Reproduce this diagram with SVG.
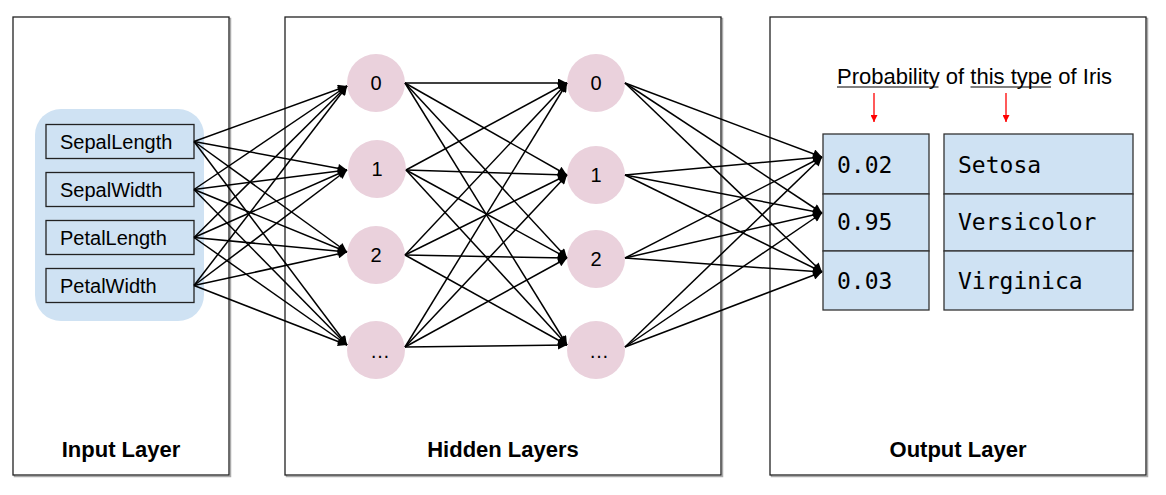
<svg xmlns="http://www.w3.org/2000/svg" width="1166" height="495" viewBox="0 0 1166 495">
<style>
.panel{fill:#fff;stroke:#222;stroke-width:1.3}
.shadow{fill:none;stroke:#aaa;stroke-width:1.5}
.inbox{fill:#cfe2f3;stroke:#222;stroke-width:1.3}
.node{fill:#ead1dc}
.cell{fill:#cfe2f3;stroke:#333;stroke-width:1.3}
.lbl{font-family:"Liberation Sans",Arial,sans-serif;font-size:20px;fill:#000}
.nl{font-family:"Liberation Sans",Arial,sans-serif;font-size:20px;fill:#000;text-anchor:middle}
.title{font-family:"Liberation Sans",Arial,sans-serif;font-size:22px;font-weight:bold;fill:#000;text-anchor:middle}
.mono{font-family:"DejaVu Sans Mono","Liberation Mono",monospace;font-size:23px;fill:#000}
.cap{font-family:"Liberation Sans",Arial,sans-serif;font-size:22px;fill:#000}
.conn line{stroke:#000;stroke-width:1.5;marker-end:url(#ah)}
.red{stroke:#f00;stroke-width:1.3;marker-end:url(#rh)}
</style>
<defs>
<marker id="ah" viewBox="0 0 10 10" refX="10" refY="5" markerWidth="11" markerHeight="9" markerUnits="userSpaceOnUse" orient="auto"><path d="M0,0 L10,5 L0,10 z" fill="#000"/></marker>
<marker id="rh" viewBox="0 0 10 10" refX="10" refY="5" markerWidth="9" markerHeight="7" markerUnits="userSpaceOnUse" orient="auto"><path d="M0,0 L10,5 L0,10 z" fill="#f00"/></marker>
</defs>
<rect width="1166" height="495" fill="#fff"/>

<g id="panel-input">
<rect class="shadow" x="14.5" y="18.5" width="216" height="458"/>
<rect class="panel" x="13" y="17" width="216" height="458"/>
<text class="title" x="121" y="457">Input Layer</text>
</g>
<g id="panel-hidden">
<rect class="shadow" x="286.5" y="18.5" width="436" height="458"/>
<rect class="panel" x="285" y="17" width="436" height="458"/>
<text class="title" x="503" y="457">Hidden Layers</text>
</g>
<g id="panel-output">
<rect class="shadow" x="771.5" y="18.5" width="376" height="458"/>
<rect class="panel" x="770" y="17" width="376" height="458"/>
<text class="title" x="958" y="457">Output Layer</text>
</g>

<g id="input-group">
<rect x="35" y="109" width="169" height="212" rx="26" ry="26" fill="#cfe2f3"/>
</g>
<g id="in-sepallength"><rect class="inbox" x="46" y="124.5" width="148" height="34"/><text class="lbl" x="60" y="149">SepalLength</text></g>
<g id="in-sepalwidth"><rect class="inbox" x="46" y="172.5" width="148" height="34"/><text class="lbl" x="60" y="197">SepalWidth</text></g>
<g id="in-petallength"><rect class="inbox" x="46" y="220.5" width="148" height="34"/><text class="lbl" x="60" y="245">PetalLength</text></g>
<g id="in-petalwidth"><rect class="inbox" x="46" y="268.5" width="148" height="34"/><text class="lbl" x="60" y="293">PetalWidth</text></g>

<g id="h1-0"><circle class="node" cx="376" cy="83" r="29"/><text class="nl" x="376" y="90">0</text></g>
<g id="h1-1"><circle class="node" cx="377" cy="169" r="29"/><text class="nl" x="377" y="176">1</text></g>
<g id="h1-2"><circle class="node" cx="376" cy="255" r="29"/><text class="nl" x="376" y="262">2</text></g>
<g id="h1-3"><circle class="node" cx="376" cy="350" r="29"/><text class="nl" x="380" y="358">…</text></g>

<g id="h2-0"><circle class="node" cx="596" cy="83" r="29"/><text class="nl" x="596" y="90">0</text></g>
<g id="h2-1"><circle class="node" cx="596" cy="175" r="29"/><text class="nl" x="596" y="182">1</text></g>
<g id="h2-2"><circle class="node" cx="596" cy="259" r="29"/><text class="nl" x="596" y="266">2</text></g>
<g id="h2-3"><circle class="node" cx="596" cy="350" r="29"/><text class="nl" x="599" y="358">…</text></g>

<g id="caption">
<text class="cap" x="837" y="84">Probability of this type of Iris</text>
<line x1="837" y1="87" x2="938.5" y2="87" stroke="#000" stroke-width="1.2"/>
<line x1="970.5" y1="87" x2="1051" y2="87" stroke="#000" stroke-width="1.2"/>
<line class="red" x1="874" y1="93" x2="874" y2="122"/>
<line class="red" x1="1006" y1="93" x2="1006" y2="122"/>
</g>

<g id="out-prob">
<rect class="cell" x="823" y="134" width="106" height="60"/>
<rect class="cell" x="823" y="194" width="106" height="57"/>
<rect class="cell" x="823" y="251" width="106" height="59"/>
<text class="mono" x="837" y="173">0.02</text>
<text class="mono" x="837" y="230">0.95</text>
<text class="mono" x="837" y="289">0.03</text>
</g>
<g id="out-type">
<rect class="cell" x="944" y="134" width="189" height="60"/>
<rect class="cell" x="944" y="194" width="189" height="57"/>
<rect class="cell" x="944" y="251" width="189" height="59"/>
<text class="mono" x="958" y="173">Setosa</text>
<text class="mono" x="958" y="230">Versicolor</text>
<text class="mono" x="958" y="289">Virginica</text>
</g>

<g id="connectors" class="conn">
<line x1="194" y1="141.5" x2="347" y2="86"/><line x1="194" y1="141.5" x2="347" y2="170"/><line x1="194" y1="141.5" x2="347" y2="252"/><line x1="194" y1="141.5" x2="347" y2="345"/>
<line x1="194" y1="189.5" x2="347" y2="86"/><line x1="194" y1="189.5" x2="347" y2="170"/><line x1="194" y1="189.5" x2="347" y2="252"/><line x1="194" y1="189.5" x2="347" y2="345"/>
<line x1="194" y1="237.5" x2="347" y2="86"/><line x1="194" y1="237.5" x2="347" y2="170"/><line x1="194" y1="237.5" x2="347" y2="252"/><line x1="194" y1="237.5" x2="347" y2="345"/>
<line x1="194" y1="285.5" x2="347" y2="86"/><line x1="194" y1="285.5" x2="347" y2="170"/><line x1="194" y1="285.5" x2="347" y2="252"/><line x1="194" y1="285.5" x2="347" y2="345"/>

<line x1="405" y1="83" x2="567" y2="83"/><line x1="405" y1="83" x2="567" y2="175"/><line x1="405" y1="83" x2="567" y2="258"/><line x1="405" y1="83" x2="567" y2="345"/>
<line x1="406" y1="170" x2="567" y2="83"/><line x1="406" y1="170" x2="567" y2="175"/><line x1="406" y1="170" x2="567" y2="258"/><line x1="406" y1="170" x2="567" y2="345"/>
<line x1="405" y1="255" x2="567" y2="83"/><line x1="405" y1="255" x2="567" y2="175"/><line x1="405" y1="255" x2="567" y2="258"/><line x1="405" y1="255" x2="567" y2="345"/>
<line x1="405" y1="347" x2="567" y2="83"/><line x1="405" y1="347" x2="567" y2="175"/><line x1="405" y1="347" x2="567" y2="258"/><line x1="405" y1="347" x2="567" y2="345"/>

<line x1="625" y1="83" x2="822" y2="157"/><line x1="625" y1="83" x2="822" y2="213"/><line x1="625" y1="83" x2="822" y2="272"/>
<line x1="625" y1="175" x2="822" y2="157"/><line x1="625" y1="175" x2="822" y2="213"/><line x1="625" y1="175" x2="822" y2="272"/>
<line x1="625" y1="258" x2="822" y2="157"/><line x1="625" y1="258" x2="822" y2="213"/><line x1="625" y1="258" x2="822" y2="272"/>
<line x1="625" y1="347" x2="822" y2="157"/><line x1="625" y1="347" x2="822" y2="213"/><line x1="625" y1="347" x2="822" y2="272"/>
</g>
</svg>
